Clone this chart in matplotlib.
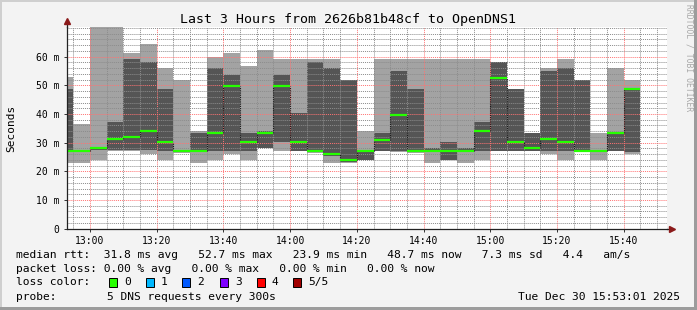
import matplotlib
matplotlib.use("Agg")
import matplotlib.pyplot as plt
from matplotlib.ticker import MultipleLocator, FixedLocator
from matplotlib.patches import Rectangle
import numpy as np

# ---- data (minutes relative to 13:00, 5-min columns) ----
col_start = [-10, -5, 0, 5, 10, 15, 20, 25, 30, 35, 40, 45, 50, 55, 60, 65, 70,
             75, 80, 85, 90, 95, 100, 105, 110, 115, 120, 125, 130, 135, 140,
             145, 150, 155, 160]
light_lo = [23.0, 23.0, 24.0, 27.0, 27.0, 26.05, 24.0, 26.3, 23.0, 24.0, 26.05,
            24.0, 28.0, 27.2, 27.0, 26.3, 23.0, 23.0, 24.0, 27.0, 26.9, 26.3,
            23.0, 24.0, 23.0, 24.0, 27.2, 27.2, 27.2, 26.05, 24.0, 27.2, 24.0,
            27.2, 26.05]
light_hi = [53.0, 36.5, 75.0, 75.0, 61.2, 64.4, 56.05, 51.9, 34.2, 60.0, 61.4,
            56.75, 62.3, 59.2, 59.2, 59.2, 59.2, 51.9, 34.2, 59.2, 59.2, 59.2,
            59.2, 59.2, 59.2, 59.2, 58.3, 48.7, 33.5, 56.05, 59.2, 51.9, 33.5,
            56.05, 51.9]
dark_lo = [27.4, 27.0, 27.4, 27.45, 27.45, 27.45, 27.2, 27.0, 27.2, 27.2, 27.2,
           27.2, 28.3, 30.4, 27.2, 26.8, 25.4, 23.3, 24.0, 27.2, 27.2, 26.6,
           26.6, 24.0, 26.6, 27.2, 27.2, 27.2, 27.2, 27.2, 27.2, 27.2, 27.0,
           27.2, 26.6]
dark_hi = [48.7, 27.5, 28.4, 37.3, 59.2, 58.3, 48.7, 27.5, 33.3, 56.05, 53.6,
           33.5, 34.2, 53.6, 40.5, 58.3, 56.05, 51.9, 27.2, 33.5, 55.1, 48.7,
           28.3, 30.4, 28.3, 37.3, 58.3, 48.7, 33.5, 55.1, 56.05, 51.9, 27.4,
           33.5, 48.7]
median = [27.2, 27.2, 28.3, 31.2, 32.1, 34.2, 30.4, 27.2, 27.2, 33.5, 49.8,
          30.4, 33.5, 49.8, 30.4, 27.2, 26.05, 24.0, 27.2, 30.8, 39.7, 27.2,
          27.2, 27.2, 27.2, 34.2, 52.7, 30.4, 28.3, 31.2, 30.4, 27.2, 27.2,
          33.5, 48.7]

x_ticks = [0, 20, 40, 60, 80, 100, 120, 140, 160]
x_labels = ["13:00", "13:20", "13:40", "14:00", "14:20", "14:40", "15:00", "15:20", "15:40"]
y_ticks = [0, 10, 20, 30, 40, 50, 60]
y_labels = ["0", "10 m", "20 m", "30 m", "40 m", "50 m", "60 m"]

loss_labels = ["0", "1", "2", "3", "4", "5/5"]
loss_colors = ["#26ff00", "#00b8ff", "#0059ff", "#7e00ff", "#ff0000", "#a10000"]

W, H = 697, 310
MONO = "DejaVu Sans Mono"
plt.rcParams["font.family"] = MONO

fig = plt.figure(figsize=(W / 100, H / 100), dpi=100, facecolor="#f3f3f3")

def fx(px):
    return px / W

def fy(py):
    return 1 - py / H

x0, x1, ytop, ybot = 66.7, 667.0, 27.3, 228.7
ax = fig.add_axes([fx(x0), fy(ybot), (x1 - x0) / W, (ybot - ytop) / H])
ax.set_facecolor("white")
ax.set_xlim(-7, 173)
ax.set_ylim(0, 70.25)

starts = np.array(col_start, dtype=float)
ll, lh = np.array(light_lo), np.array(light_hi)
dl, dh = np.array(dark_lo), np.array(dark_hi)
med = np.array(median)

ax.bar(starts, lh - ll, bottom=ll, width=5, align="edge", color="#a3a3a3",
       linewidth=0, zorder=1)
ax.bar(starts, dh - dl, bottom=dl, width=5, align="edge", color="#555555",
       linewidth=0, zorder=1.1)

# stepped median connectors
for i in range(1, len(med)):
    ax.vlines(starts[i], min(med[i - 1], med[i]), max(med[i - 1], med[i]),
              colors="#1a1a1a", linestyles=(0, (1, 1)), lw=0.8, zorder=3)
ax.hlines(med, starts, starts + 5, colors=loss_colors[0], lw=1.6, zorder=4)

# grid
ax.set_axisbelow(False)
ax.xaxis.set_major_locator(FixedLocator(x_ticks))
ax.xaxis.set_minor_locator(MultipleLocator(5))
ax.yaxis.set_major_locator(FixedLocator(y_ticks))
ax.yaxis.set_minor_locator(MultipleLocator(2))
ax.grid(which="minor", color=(0.55, 0.55, 0.55, 0.3), linestyle=(0, (1, 1)), lw=0.7)
ax.grid(which="major", color=(1.0, 0.45, 0.45, 0.45), linestyle=(0, (1, 1)), lw=0.7)

ax.set_xticklabels(x_labels)
ax.set_yticklabels(y_labels)
ax.tick_params(which="major", length=2.5, width=0.7, color="#333333",
               labelsize=7, pad=3)
ax.tick_params(which="minor", length=0)
for s in ["top", "right"]:
    ax.spines[s].set_visible(False)
for s in ["left", "bottom"]:
    ax.spines[s].set_color("#222222")
    ax.spines[s].set_linewidth(0.9)
    ax.spines[s].set_zorder(6)

# axis arrows
ax.plot([-7, -7], [70.25, 72.5], color="#222222", lw=0.9, clip_on=False, zorder=6)
ax.plot([-7], [72.5], marker="^", color="#8b1a1a", ms=4, clip_on=False, zorder=7)
ax.plot([173, 174.5], [0, 0], color="#222222", lw=0.9, clip_on=False, zorder=6)
ax.plot([174.5], [0], marker=">", color="#8b1a1a", ms=4, clip_on=False, zorder=7)

fig.text(fx(11), fy(128), "Seconds", rotation=90, fontsize=8, ha="center", va="center")

# title
fig.text(fx(348), fy(19.5), "Last 3 Hours from 2626b81b48cf to OpenDNS1",
         fontsize=9.5, ha="center", va="center")

# watermark
fig.text(fx(689), fy(4), "RRDTOOL / TOBI OETIKER", rotation=270, fontsize=5.8,
         color="#a8a8a8", ha="center", va="top")

# legend / stats
fs = 8.1
fig.text(fx(16), fy(255), "median rtt:  31.8 ms avg   52.7 ms max   23.9 ms min   48.7 ms now   7.3 ms sd   4.4   am/s",
         fontsize=fs, ha="left", va="center")
fig.text(fx(16), fy(268.5), "packet loss: 0.00 % avg   0.00 % max   0.00 % min   0.00 % now",
         fontsize=fs, ha="left", va="center")
fig.text(fx(16), fy(282.3), "loss color:", fontsize=fs, ha="left", va="center")
sq_x = [109, 146, 182, 220, 257, 293]
for xs, lab, c in zip(sq_x, loss_labels, loss_colors):
    fig.add_artist(Rectangle((fx(xs), fy(286.5)), 8 / W, 8.5 / H, transform=fig.transFigure,
                             facecolor=c, edgecolor="black", lw=0.7))
    fig.text(fx(xs + 15), fy(282.3), lab, fontsize=fs, ha="left", va="center")
fig.text(fx(16), fy(296.5), "probe:", fontsize=fs, ha="left", va="center")
fig.text(fx(107), fy(296.5), "5 DNS requests every 300s", fontsize=fs, ha="left", va="center")
fig.text(fx(680), fy(296.5), "Tue Dec 30 15:53:01 2025", fontsize=fs, ha="right", va="center")

# 3D border
fig.add_artist(Rectangle((0, 0), fx(2), 1, transform=fig.transFigure, facecolor="#cfcfcf", lw=0))
fig.add_artist(Rectangle((0, fy(2)), 1, 2 / H, transform=fig.transFigure, facecolor="#cfcfcf", lw=0))
fig.add_artist(Rectangle((fx(694), 0), 3 / W, 1, transform=fig.transFigure, facecolor="#9c9c9c", lw=0))
fig.add_artist(Rectangle((0, 0), 1, 3 / H, transform=fig.transFigure, facecolor="#9c9c9c", lw=0))

fig.savefig("out.png", dpi=100, facecolor=fig.get_facecolor())
